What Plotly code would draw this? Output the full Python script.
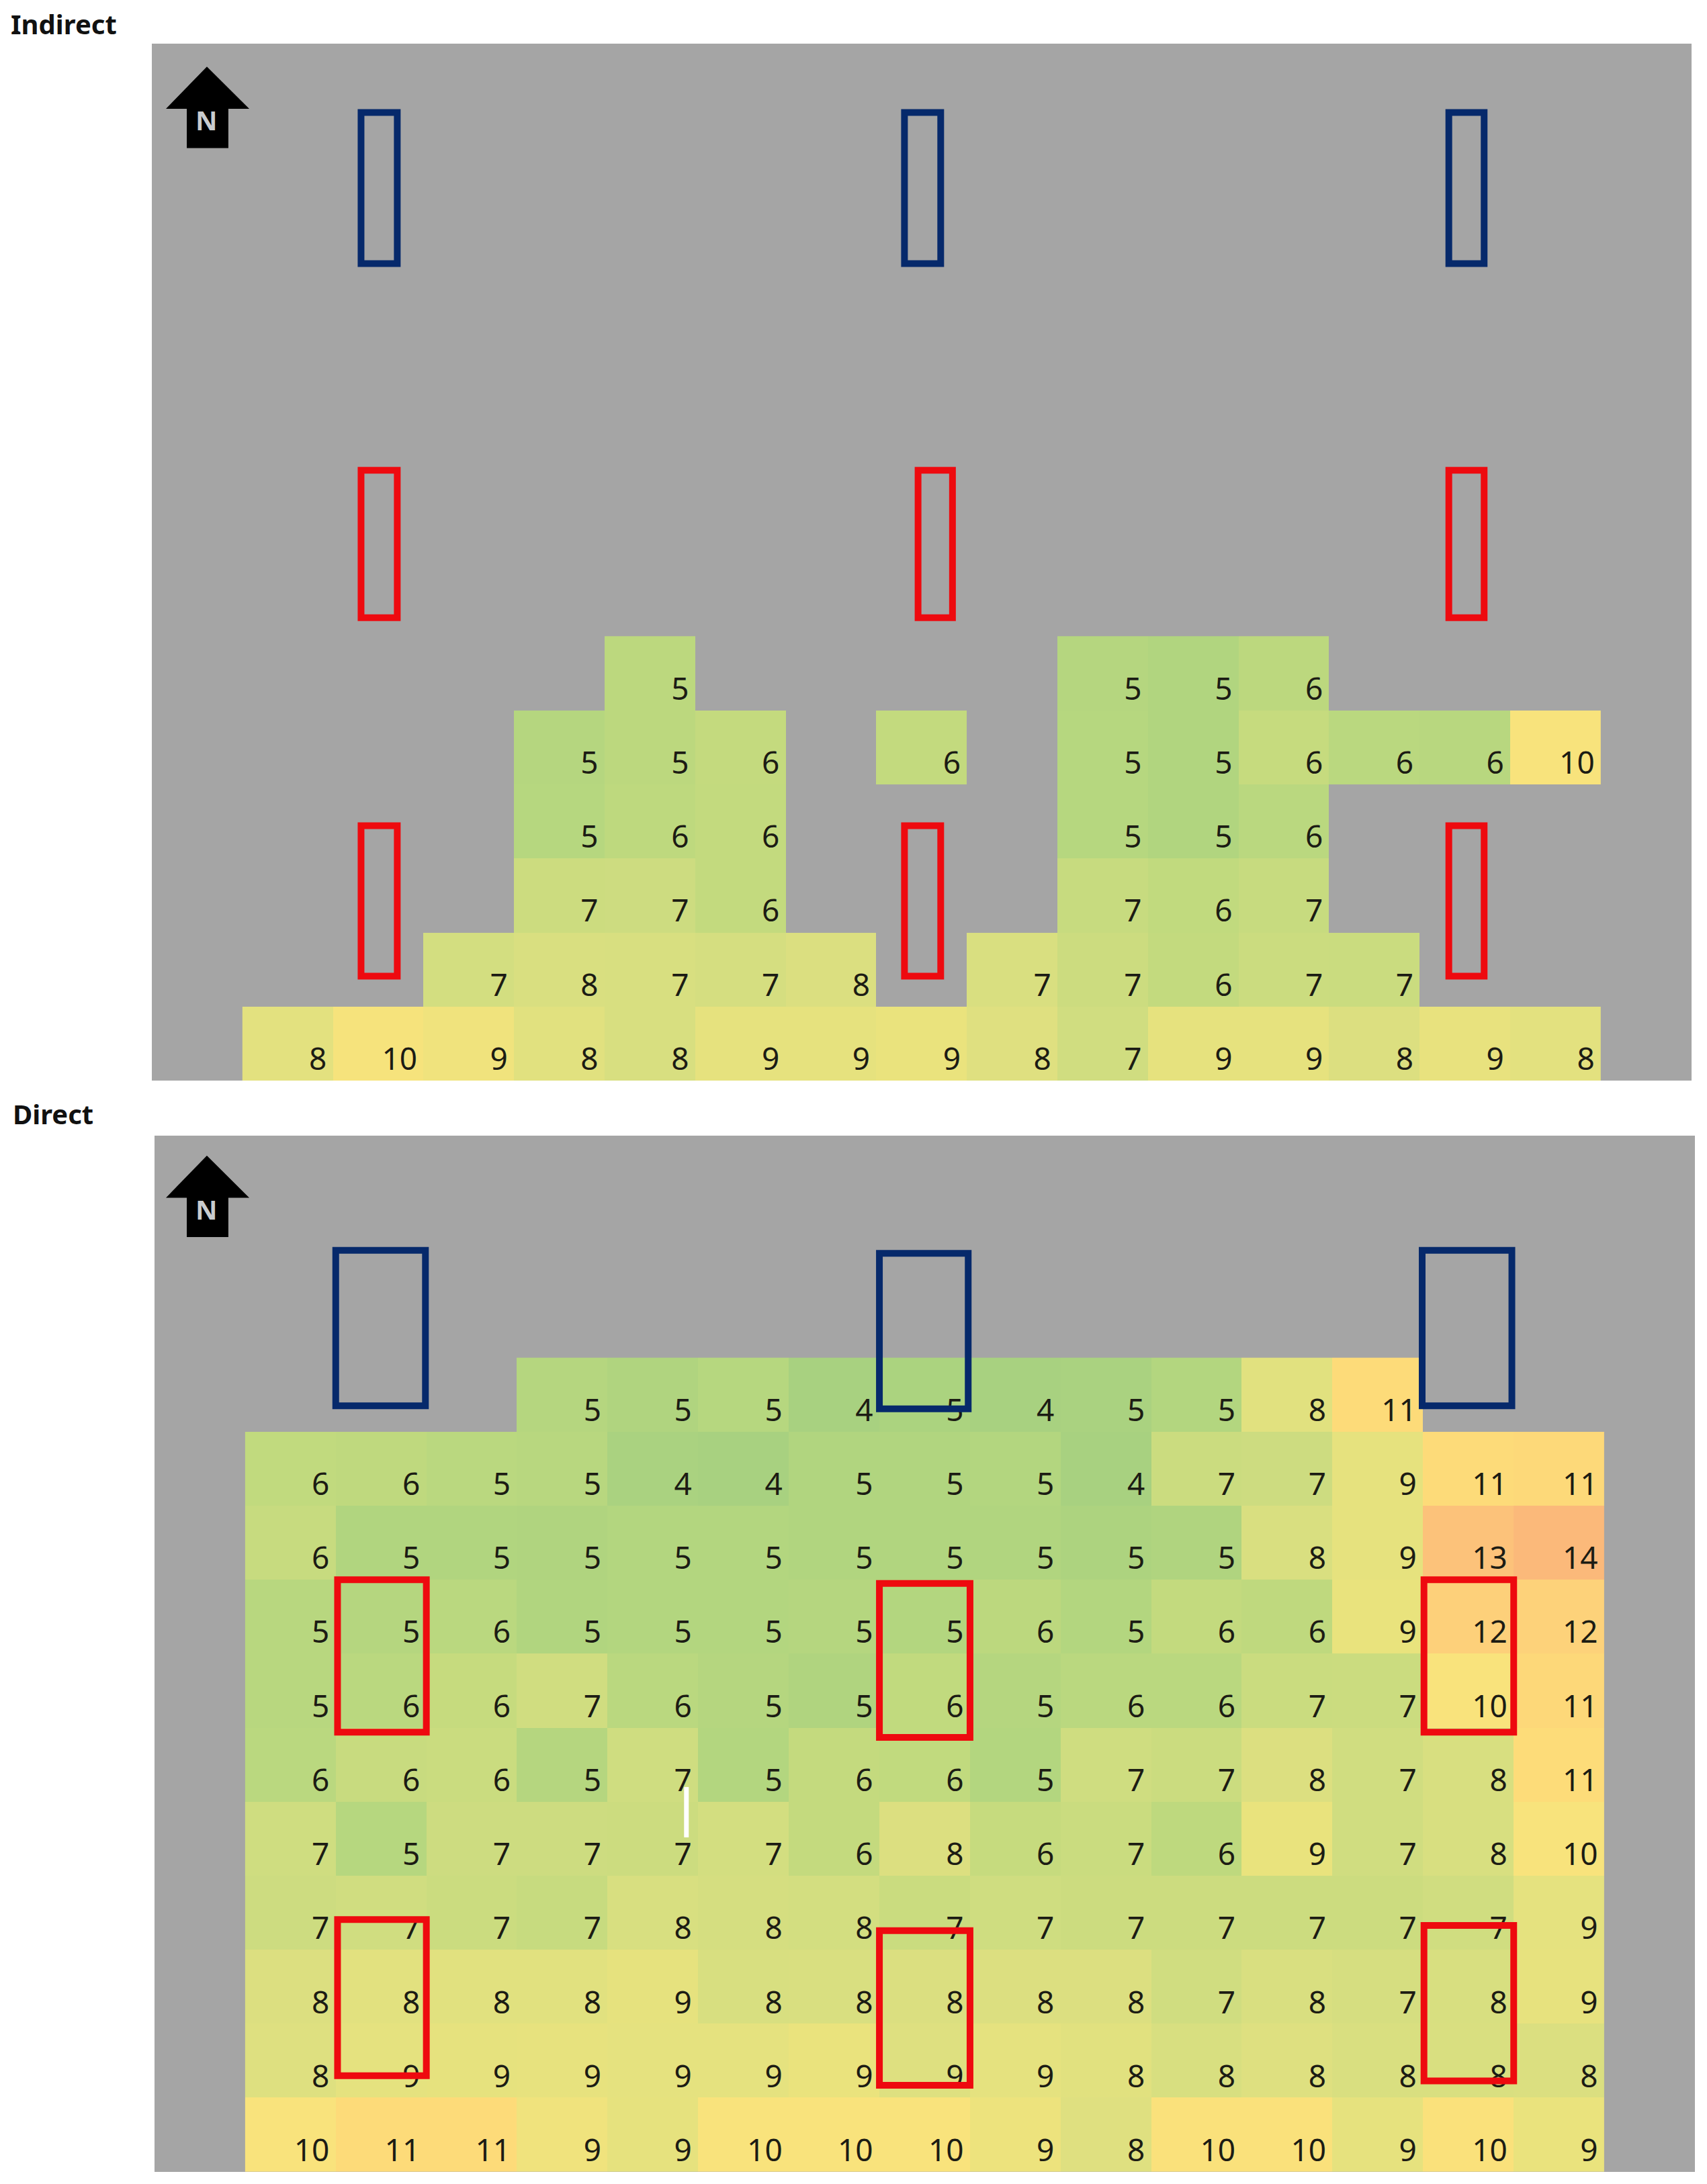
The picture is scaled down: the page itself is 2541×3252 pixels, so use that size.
"""Indirect / Direct grid heat maps with the building outlines drawn over them."""
import plotly.graph_objects as go

N = None

# labels and shades go row by row from the top of the coloured block, 15 columns
indirect_labels = [
    [N, N, N, N, 5, N, N, N, N, 5, 5, 6, N, N, N],
    [N, N, N, 5, 5, 6, N, 6, N, 5, 5, 6, 6, 6, 10],
    [N, N, N, 5, 6, 6, N, N, N, 5, 5, 6, N, N, N],
    [N, N, N, 7, 7, 6, N, N, N, 7, 6, 7, N, N, N],
    [N, N, 7, 8, 7, 7, 8, N, 7, 7, 6, 7, 7, N, N],
    [8, 10, 9, 8, 8, 9, 9, 9, 8, 7, 9, 9, 8, 9, 8],
]
indirect_shades = [
    [N, N, N, N, 5.6, N, N, N, N, 5.2, 5.0, 5.6, N, N, N],
    [N, N, N, 5.2, 5.6, 6.1, N, 6.0, N, 5.3, 5.0, 6.2, 5.5, 5.4, 9.9],
    [N, N, N, 5.3, 5.7, 6.0, N, N, N, 5.3, 5.0, 5.5, N, N, N],
    [N, N, N, 6.7, 6.8, 6.0, N, N, N, 6.3, 5.9, 6.3, N, N, N],
    [N, N, 7.2, 7.6, 7.5, 7.3, 7.7, N, 7.6, 6.7, 6.0, 6.6, 6.5, N, N],
    [8.4, 9.8, 9.4, 8.2, 7.5, 8.6, 8.6, 9.0, 8.0, 7.0, 8.6, 8.6, 7.8, 8.8, 8.4],
]
direct_labels = [
    [N, N, N, 5, 5, 5, 4, 5, 4, 5, 5, 8, 11, N, N],
    [6, 6, 5, 5, 4, 4, 5, 5, 5, 4, 7, 7, 9, 11, 11],
    [6, 5, 5, 5, 5, 5, 5, 5, 5, 5, 5, 8, 9, 13, 14],
    [5, 5, 6, 5, 5, 5, 5, 5, 6, 5, 6, 6, 9, 12, 12],
    [5, 6, 6, 7, 6, 5, 5, 6, 5, 6, 6, 7, 7, 10, 11],
    [6, 6, 6, 5, 7, 5, 6, 6, 5, 7, 7, 8, 7, 8, 11],
    [7, 5, 7, 7, 7, 7, 6, 8, 6, 7, 6, 9, 7, 8, 10],
    [7, 7, 7, 7, 8, 8, 8, 7, 7, 7, 7, 7, 7, 7, 9],
    [8, 8, 8, 8, 9, 8, 8, 8, 8, 8, 7, 8, 7, 8, 9],
    [8, 9, 9, 9, 9, 9, 9, 9, 9, 8, 8, 8, 8, 8, 8],
    [10, 11, 11, 9, 9, 10, 10, 10, 9, 8, 10, 10, 9, 10, 9],
]
direct_shades = [
    [N, N, N, 5.2, 4.9, 5.3, 4.4, 4.6, 4.4, 4.5, 5.1, 8.2, 11.0, N, N],
    [5.9, 5.8, 5.5, 5.4, 4.5, 4.4, 5.0, 5.0, 5.1, 4.4, 6.6, 6.8, 8.6, 11.0, 11.2],
    [6.3, 5.0, 5.0, 4.9, 5.1, 5.1, 5.0, 5.0, 5.0, 4.7, 4.9, 7.6, 8.6, 13.0, 14.0],
    [5.4, 5.2, 5.5, 5.0, 5.1, 5.1, 5.2, 5.1, 5.6, 5.1, 6.0, 5.8, 8.9, 12.0, 11.8],
    [5.4, 5.5, 6.2, 7.0, 5.5, 5.2, 4.9, 5.9, 5.2, 5.5, 5.5, 6.5, 6.6, 10.0, 11.3],
    [5.5, 6.4, 6.5, 5.2, 6.9, 5.1, 6.1, 5.9, 5.1, 6.9, 6.6, 7.8, 7.0, 7.5, 10.9],
    [6.9, 5.3, 6.8, 6.8, 6.7, 7.2, 6.1, 7.8, 6.2, 6.5, 5.7, 8.9, 7.0, 7.5, 9.9],
    [6.8, 7.0, 6.6, 6.3, 7.5, 7.3, 7.2, 6.5, 6.9, 6.7, 6.7, 6.7, 6.7, 7.0, 8.5],
    [7.8, 8.3, 8.2, 8.2, 8.6, 7.5, 7.6, 7.7, 7.8, 7.8, 7.0, 7.6, 7.4, 7.5, 8.7],
    [7.9, 8.5, 8.6, 8.7, 8.5, 8.5, 9.0, 7.9, 8.5, 8.2, 7.5, 7.9, 7.6, 7.6, 7.7],
    [10.0, 11.0, 11.0, 9.4, 8.6, 10.0, 10.0, 10.0, 9.2, 8.0, 10.2, 10.2, 8.6, 10.2, 9.0],
]

shade_min = 4
shade_max = 14
shade_colors = ["#a2cf80", "#b1d57f", "#c3da7e", "#d0dd80", "#dfe080", "#eae37d",
                "#f9e37c", "#fddb79", "#fdd07a", "#fcc27a", "#fbb97a"]
colorscale = [[i / (len(shade_colors) - 1), c] for i, c in enumerate(shade_colors)]

# outlines in grid units (x0, x1, y0, y1), y counted up from the bottom edge
indirect_blue = [(2.31, 2.71, 11.03, 13.07), (8.31, 8.71, 11.03, 13.07), (14.32, 14.71, 11.03, 13.07)]
indirect_red = [(2.31, 2.71, 6.25, 8.24), (8.46, 8.84, 6.25, 8.24), (14.32, 14.71, 6.25, 8.24),
                (2.31, 2.71, 1.41, 3.44), (8.31, 8.71, 1.41, 3.44), (14.32, 14.71, 1.41, 3.44)]
direct_blue = [(2.0, 2.99, 10.35, 12.45), (8.0, 8.98, 10.31, 12.41), (13.99, 14.98, 10.35, 12.45)]
direct_red = [(2.02, 3.0, 5.94, 8.0), (8.0, 9.0, 5.87, 7.95), (14.01, 15.0, 5.94, 8.0),
              (2.02, 3.0, 1.30, 3.41), (8.0, 9.0, 1.17, 3.26), (14.01, 15.0, 1.23, 3.33)]
direct_white_tick = (5.87, 4.52, 5.2)

W, H = 2541, 3252
PAGE_PAD = 8  # the page body keeps its default margin
TOP_BOX = (226 - PAGE_PAD, 2518 - PAGE_PAD, 65 - PAGE_PAD, 1609 - PAGE_PAD)
BOTTOM_BOX = (230 - PAGE_PAD, 2523 - PAGE_PAD, 1691 - PAGE_PAD, 3234 - PAGE_PAD)


def domains(box):
    x0, x1, y0, y1 = box
    return [x0 / W, x1 / W], [1 - y1 / H, 1 - y0 / H]


def panel(fig, labels, shades, xa, ya):
    n = len(labels)
    xs = [c + 1.5 for c in range(15)]
    ys = [n - i - 0.5 for i in range(n)]
    fig.add_trace(go.Heatmap(x=xs, y=ys, z=shades, zmin=shade_min, zmax=shade_max,
                             colorscale=colorscale, showscale=False, hoverinfo="skip",
                             xaxis=xa, yaxis=ya))
    tx, ty, tt = [], [], []
    for i, r in enumerate(labels):
        for c, v in enumerate(r):
            if v is not None:
                tx.append(c + 1.93)
                ty.append(n - i - 0.75)
                tt.append(str(v))
    fig.add_trace(go.Scatter(x=tx, y=ty, text=tt, mode="text", textposition="middle left",
                             textfont=dict(family="Noto Sans", size=46, color="#1c1c14"),
                             hoverinfo="skip", showlegend=False, xaxis=xa, yaxis=ya))


def rects(fig, items, color, xa, ya):
    for x0, x1, y0, y1 in items:
        fig.add_shape(type="rect", x0=x0, x1=x1, y0=y0, y1=y1, xref=xa, yref=ya,
                      line=dict(color=color, width=10), layer="above")


def north_arrow(fig, left, xa, ya, dy):
    path = (f"M {left + 0.452},{13.69 + dy} L {left + 0.92},{13.12 + dy} L {left + 0.689},{13.12 + dy} "
            f"L {left + 0.689},{12.59 + dy} L {left + 0.23},{12.59 + dy} L {left + 0.23},{13.12 + dy} "
            f"L {left},{13.12 + dy} Z")
    fig.add_shape(type="path", path=path, xref=xa, yref=ya, fillcolor="black", line_width=0, layer="above")
    fig.add_annotation(x=left + 0.452, y=12.97 + dy, xref=xa, yref=ya, text="<b>N</b>", showarrow=False,
                       font=dict(family="Noto Sans", size=40, color="#c9ccce"))


fig = go.Figure()
panel(fig, indirect_labels, indirect_shades, "x", "y")
panel(fig, direct_labels, direct_shades, "x2", "y2")

rects(fig, indirect_blue, "#06296b", "x", "y")
rects(fig, indirect_red, "#ee0a0f", "x", "y")
rects(fig, direct_blue, "#06296b", "x2", "y2")
rects(fig, direct_red, "#ee0a0f", "x2", "y2")

fig.add_shape(type="line", x0=direct_white_tick[0], x1=direct_white_tick[0],
              y0=direct_white_tick[1], y1=direct_white_tick[2], xref="x2", yref="y2",
              line=dict(color="white", width=7), layer="above")

north_arrow(fig, 0.156, "x", "y", 0)
north_arrow(fig, 0.126, "x2", "y2", 0.04)

for text, px, py in [("Indirect", 14 - PAGE_PAD, 36 - PAGE_PAD), ("Direct", 17 - PAGE_PAD, 1658 - PAGE_PAD)]:
    fig.add_annotation(x=px / W, y=1 - py / H, xref="paper", yref="paper", text=f"<b>{text}</b>",
                       showarrow=False, xanchor="left", yanchor="middle",
                       font=dict(family="Noto Sans", size=40, color="#111111"))

top_x, top_y = domains(TOP_BOX)
bot_x, bot_y = domains(BOTTOM_BOX)
axis_off = dict(showgrid=False, zeroline=False, showticklabels=False, ticks="", showline=False)

fig.update_layout(
    width=W,
    height=H,
    autosize=False,
    margin=dict(l=0, r=0, t=0, b=0),
    paper_bgcolor="white",
    plot_bgcolor="#a5a5a5",
    showlegend=False,
    xaxis=dict(domain=top_x, range=[0, 17], **axis_off),
    yaxis=dict(domain=top_y, range=[0, 14], **axis_off),
    xaxis2=dict(domain=bot_x, range=[0, 17], anchor="y2", **axis_off),
    yaxis2=dict(domain=bot_y, range=[0, 14], anchor="x2", **axis_off),
)

fig.write_html("out.html")
